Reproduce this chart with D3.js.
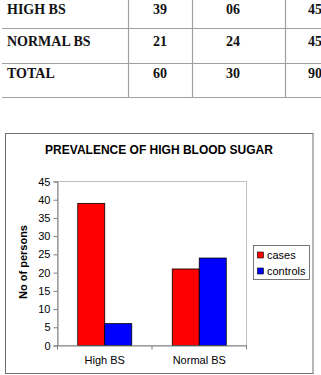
<!DOCTYPE html>
<html>
<head>
<meta charset="utf-8">
<script src="https://cdn.jsdelivr.net/npm/d3@7"></script>
<style>
  body { margin: 0; background: #fff; }
  svg { display: block; }
</style>
</head>
<body>
<svg id="chart" width="321" height="375"></svg>
<script>
// table rows shown above the chart
const tableRows = ['HIGH BS', 'NORMAL BS', 'TOTAL'];
const tableCases = ['39', '21', '60'];
const tableControls = ['06', '24', '30'];
const tableTotals = ['45', '45', '90'];

// chart data
const categories = ['High BS', 'Normal BS'];
const seriesNames = ['cases', 'controls'];
const cases = [39, 21];
const controls = [6, 24];
const yTicks = [0, 5, 10, 15, 20, 25, 30, 35, 40, 45];
const seriesColors = ['#ff0000', '#0000ff'];

const svg = d3.select('#chart');
const sans = '"Liberation Sans", Arial, sans-serif';
const serif = '"Liberation Serif", "Times New Roman", serif';

// ---- table (top part, cut by the page edge) ----
const tbl = svg.append('g');
const rowLines = [28, 63, 97];
const colLines = [128, 192, 285];
const lineCol = '#a0a0a0';
rowLines.forEach((y) => {
  tbl.append('line').attr('x1', 2).attr('x2', 321).attr('y1', y + 0.5).attr('y2', y + 0.5)
    .style('stroke', lineCol).style('stroke-width', 1.2);
});
colLines.forEach((x) => {
  tbl.append('line').attr('x1', x + 0.5).attr('x2', x + 0.5).attr('y1', 0).attr('y2', 97)
    .style('stroke', lineCol).style('stroke-width', 1.2);
});
const baseY = [14, 46, 78];
const colX = [160, 233, 308];
const tcols = [tableCases, tableControls, tableTotals];
tableRows.forEach((r, i) => {
  tbl.append('text').attr('x', 7).attr('y', baseY[i]).text(r)
    .style('font-family', serif).style('font-weight', 'bold')
    .style('font-size', '14px').style('fill', '#111');
  tcols.forEach((col, j) => {
    tbl.append('text').attr('x', colX[j]).attr('y', baseY[i])
      .attr('text-anchor', j === 2 ? 'start' : 'middle')
      .text(col[i])
      .style('font-family', serif).style('font-weight', 'bold')
      .style('font-size', '14px').style('fill', '#111');
  });
});

// ---- chart frame ----
svg.append('rect').attr('x', 5.5).attr('y', 133.5).attr('width', 307.5).attr('height', 240)
  .style('fill', '#fff').style('stroke', '#6e6e6e').style('stroke-width', 1);

svg.append('text').attr('x', 159).attr('y', 153.5).attr('text-anchor', 'middle')
  .text('PREVALENCE OF HIGH BLOOD SUGAR')
  .style('font-family', sans).style('font-weight', 'bold')
  .style('font-size', '12px').style('fill', '#000');

const plot = { left: 57, right: 246, top: 181, bottom: 345 };

const y = d3.scaleLinear().domain([0, 45]).range([plot.bottom, plot.top]);
const x0 = d3.scaleBand().domain(categories).range([plot.left, plot.right]).padding(0);
const bw = x0.bandwidth();
const gap = bw * 1.5 / 3.5;
const x1 = d3.scaleBand().domain(seriesNames).range([gap / 2, bw - gap / 2]).padding(0);

// plot area border (light grey top/right)
svg.append('rect').attr('x', plot.left + 0.5).attr('y', plot.top + 0.5)
  .attr('width', plot.right - plot.left).attr('height', plot.bottom - plot.top)
  .style('fill', 'none').style('stroke', '#c0c0c0').style('stroke-width', 1);

// bars
const data = categories.map((c, i) => ({ cat: c, vals: [cases[i], controls[i]] }));
const groups = svg.selectAll('g.grp').data(data).enter().append('g')
  .attr('class', 'grp').attr('transform', (d) => `translate(${x0(d.cat)},0)`);
groups.selectAll('rect').data((d) => d.vals.map((v, k) => ({ s: seriesNames[k], v, k })))
  .enter().append('rect')
  .attr('x', (d) => x1(d.s) + 0.5)
  .attr('y', (d) => y(d.v) + 0.5)
  .attr('width', x1.bandwidth())
  .attr('height', (d) => y(0) - y(d.v))
  .style('fill', (d) => seriesColors[d.k])
  .style('stroke', '#000').style('stroke-width', 0.8);

// y axis
const yAxis = d3.axisLeft(y).tickValues(yTicks).tickSize(4).tickPadding(3);
const gy = svg.append('g').attr('transform', `translate(${plot.left + 0.5},0.5)`).call(yAxis);
gy.select('.domain').style('stroke', '#808080');
gy.selectAll('line').style('stroke', '#808080');
gy.selectAll('text').style('font-family', sans)
  .style('font-size', '11px').style('fill', '#000');

// x axis
const xAxis = d3.axisBottom(x0).tickSize(0).tickPadding(11);
const gx = svg.append('g').attr('transform', `translate(0.5,${plot.bottom + 0.5})`).call(xAxis);
gx.select('.domain').style('stroke', '#808080');
gx.selectAll('text').style('font-family', sans)
  .style('font-size', '11px').style('fill', '#000');
// category separator ticks
const sep = [plot.left, x0('Normal BS'), plot.right];
gx.selectAll('line.sep').data(sep).enter().append('line').attr('class', 'sep')
  .attr('x1', (d) => d).attr('x2', (d) => d).attr('y1', 0).attr('y2', 4)
  .style('stroke', '#808080');

// y label
svg.append('text').attr('transform', 'translate(27,262) rotate(-90)')
  .attr('text-anchor', 'middle').text('No of persons')
  .style('font-family', sans).style('font-weight', 'bold')
  .style('font-size', '11px').style('fill', '#000');

// legend
const leg = svg.append('g');
leg.append('rect').attr('x', 253.5).attr('y', 245.5).attr('width', 56).attr('height', 34)
  .style('fill', '#fff').style('stroke', '#555').style('stroke-width', 0.8);
seriesNames.forEach((s, i) => {
  const cy = 255 + i * 16;
  leg.append('rect').attr('x', 257.5).attr('y', cy - 3).attr('width', 6).attr('height', 6)
    .style('fill', seriesColors[i]).style('stroke', '#000').style('stroke-width', 0.6);
  leg.append('text').attr('x', 267).attr('y', cy + 4).text(s)
    .style('font-family', sans)
    .style('font-size', '11px').style('fill', '#000');
});
</script>
</body>
</html>
